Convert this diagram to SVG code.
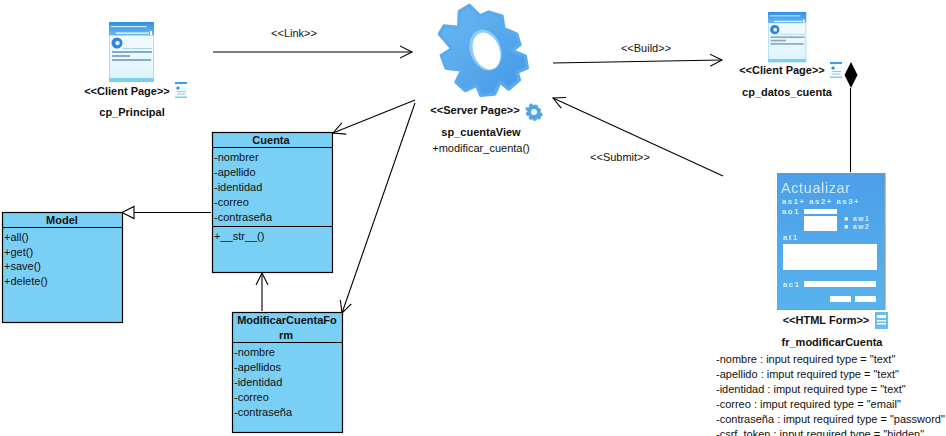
<svg xmlns="http://www.w3.org/2000/svg" width="946" height="436" viewBox="0 0 946 436">
<defs>
<style>
text{font-family:"Liberation Sans",Arial,sans-serif;font-size:11px;fill:#111}
.b{font-weight:bold}.m{text-anchor:middle}
.box{fill:#7acff5;stroke:#000;stroke-width:1.2}
.sep{stroke:#000;stroke-width:1.2;fill:none}
.c{stroke:#000;stroke-width:1.1;fill:none}
.wf{fill:#fff}
.ft{font-size:8px;fill:#d8effc;font-weight:bold;letter-spacing:1.4px}
</style>
<filter id="soft" x="-5%" y="-5%" width="110%" height="110%"><feGaussianBlur stdDeviation="0.45"/></filter>
<marker id="open" markerWidth="14" markerHeight="14" refX="12" refY="7" orient="auto" markerUnits="userSpaceOnUse"><path d="M0 1 L12 7 L0 13" fill="none" stroke="#000" stroke-width="1.1"/></marker>
<linearGradient id="page" x1="0" y1="0" x2="0" y2="1"><stop offset="0" stop-color="#2f8fe6"/><stop offset=".22" stop-color="#6ab8ef"/><stop offset=".23" stop-color="#f2fbff"/><stop offset=".93" stop-color="#dff4fd"/><stop offset=".94" stop-color="#7acff5"/></linearGradient>
<linearGradient id="gear" x1="0" y1="0" x2="1" y2="1"><stop offset="0" stop-color="#6cb8f2"/><stop offset="1" stop-color="#4398e6"/></linearGradient>
<linearGradient id="form" x1="0" y1="0" x2="0" y2="1"><stop offset="0" stop-color="#4c9fe8"/><stop offset="1" stop-color="#58b2ec"/></linearGradient>
<g id="pageIcon">
<rect width="45" height="60" fill="url(#page)"/>
<rect x="2" y="4" width="36" height="1.2" fill="#cfe8fb"/>
<rect x="7" y="10.5" width="33" height="1.2" fill="#fff"/>
<rect x="41" y="9" width="2" height="4" fill="#fff"/>
<circle cx="8" cy="21" r="5.5" fill="#2f86d8"/><circle cx="8.5" cy="21" r="2.2" fill="#e8f6ff"/>
<rect x="14" y="26" width="29" height="0.8" fill="#9ccbe8"/>
<rect x="3" y="29" width="40" height="2" fill="#8aa9c4"/>
<rect x="3" y="33" width="18" height="2" fill="#8aa9c4"/>
<rect x="3" y="37" width="39" height="2" fill="#8aa9c4"/>
<rect x="0" y="14" width="1" height="42" fill="#a9dcf6"/><rect x="44" y="14" width="1" height="42" fill="#a9dcf6"/>
</g>
<g id="miniPage">
<rect width="12" height="16" fill="#f2fbff"/><rect width="12" height="2" fill="#3f9be8"/><rect y="14.5" width="12" height="1.5" fill="#7acff5"/>
<circle cx="3" cy="6" r="1.6" fill="#2f86d8"/><rect x="2" y="9" width="9" height="1" fill="#9cc4dd"/><rect x="2" y="11.5" width="8" height="1" fill="#9cc4dd"/>
</g>
<path id="gearShape" d="M88 34 L118 16 L150 48 L176 36 L216 48 L222 86 L260 102 L270 134 L246 152 L286 168 L292 204 L262 216 L268 240 L236 268 L210 246 L194 282 L152 286 L140 256 L106 272 L78 246 L96 210 L48 204 L34 166 L66 146 L28 102 L42 78 L86 82 Z" stroke-linejoin="round" stroke-width="10"/>
</defs>
<rect width="946" height="436" fill="#fff"/>
<g id="connectors">
<line class="c" x1="213" y1="52" x2="412" y2="52" marker-end="url(#open)"/>
<line class="c" x1="553" y1="63" x2="722" y2="60" marker-end="url(#open)"/>
<line class="c" x1="723" y1="176" x2="553" y2="98" marker-end="url(#open)"/>
<line class="c" x1="415" y1="100" x2="333" y2="133" marker-end="url(#open)"/>
<line class="c" x1="415" y1="103" x2="342" y2="313" marker-end="url(#open)"/>
<line class="c" x1="262" y1="311" x2="262" y2="273" marker-end="url(#open)"/>
<line class="c" x1="211" y1="212.5" x2="134" y2="212.5"/>
<path d="M122 212.5 L134 206.5 L134 218.5 Z" fill="#fff" stroke="#000" stroke-width="1.1"/>
<line class="c" x1="850.5" y1="88" x2="850.5" y2="172"/>
<path d="M851 62 L857.5 75 L851 88 L844.5 75 Z" fill="#000"/>
<text class="m" x="294" y="37">&lt;&lt;Link&gt;&gt;</text>
<text class="m" x="646" y="52">&lt;&lt;Build&gt;&gt;</text>
<text class="m" x="620" y="161">&lt;&lt;Submit&gt;&gt;</text>
</g>
<g id="cp_Principal">
<use href="#pageIcon" x="109" y="22" filter="url(#soft)"/>
<use href="#miniPage" x="175" y="82"/>
<text class="b m" x="127" y="95">&lt;&lt;Client Page&gt;&gt;</text>
<text class="b m" x="132" y="116">cp_Principal</text>
</g>
<g id="sp_cuentaView">
<use href="#gearShape" transform="translate(430 0) scale(.3333)" fill="url(#gear)" stroke="#5aaaee" filter="url(#soft)"/>
<ellipse cx="485.5" cy="50" rx="15.5" ry="21" transform="rotate(-20 485.5 50)" fill="#8ecbf6"/>
<ellipse cx="486.5" cy="51" rx="13" ry="19" transform="rotate(-20 486.5 51)" fill="#fff"/>
<text class="b m" x="475" y="114">&lt;&lt;Server Page&gt;&gt;</text>
<use href="#gearShape" transform="translate(534 112) scale(.0633) translate(-160 -150)" fill="#4fa3ea" stroke="#4fa3ea"/>
<circle cx="534" cy="112" r="3" fill="#fff"/>
<text class="b m" x="481" y="136">sp_cuentaView</text>
<text class="m" x="481" y="152">+modificar_cuenta()</text>
</g>
<g id="cp_datos_cuenta">
<use href="#pageIcon" transform="translate(768 12) scale(.85 .84)" filter="url(#soft)"/>
<use href="#miniPage" x="830" y="62"/>
<text class="b m" x="782" y="74">&lt;&lt;Client Page&gt;&gt;</text>
<text class="b m" x="787" y="96">cp_datos_cuenta</text>
</g>
<g id="fr_modificarCuenta">
<g filter="url(#soft)">
<rect x="777" y="173" width="108" height="136" fill="url(#form)"/>
<path d="M777 309.5 H885 V173" fill="none" stroke="#8a9aa5" stroke-width="1.2"/>
<text x="781" y="193" style="font-size:14.5px;fill:#cfe9fb;letter-spacing:.6px">Actualizar</text>
<text x="782" y="204" class="ft">as1+ as2+ as3+</text>
<text x="782" y="214" class="ft">ao1</text>
<rect class="wf" x="804" y="209" width="33" height="5"/>
<rect class="wf" x="804" y="216" width="33" height="15"/>
<text x="844" y="221" class="ft" style="font-size:7px">■ aw1</text>
<text x="844" y="229" class="ft" style="font-size:7px">■ aw2</text>
<text x="783" y="240" class="ft">at1</text>
<rect class="wf" x="783" y="244" width="94" height="26"/>
<text x="783" y="287" class="ft">ac1</text>
<rect class="wf" x="804" y="281" width="72" height="6"/>
<rect class="wf" x="830" y="296" width="21" height="6"/>
<rect class="wf" x="855" y="296" width="21" height="6"/>
</g>
<text class="b m" x="826" y="324">&lt;&lt;HTML Form&gt;&gt;</text>
<rect x="875" y="312" width="13" height="17" fill="#6cbcef"/>
<rect x="877" y="315" width="9" height="3" fill="#fff"/><rect x="877" y="320" width="9" height="1.5" fill="#fff"/><rect x="877" y="323" width="9" height="1.5" fill="#fff"/>
<text class="b m" x="832" y="346">fr_modificarCuenta</text>
<text x="716" y="363">-nombre : input required type = "text"</text>
<text x="716" y="378">-apellido : imput required type = "text"</text>
<text x="716" y="393">-identidad : imput required type = "text"</text>
<text x="716" y="408">-correo : imput required type = "email"</text>
<text x="716" y="423">-contraseña : imput required type = "password"</text>
<text x="716" y="438">-csrf_token : input required type = "hidden"</text>
</g>
<g id="Model">
<rect class="box" x="2.5" y="212.5" width="120" height="110"/>
<line class="sep" x1="2.5" y1="227.5" x2="122.5" y2="227.5"/>
<text class="b m" x="62" y="224">Model</text>
<text x="4" y="241">+all()</text>
<text x="4" y="256">+get()</text>
<text x="4" y="270">+save()</text>
<text x="4" y="285">+delete()</text>
</g>
<g id="Cuenta">
<rect class="box" x="212.5" y="132.5" width="120" height="140"/>
<line class="sep" x1="212.5" y1="147.5" x2="332.5" y2="147.5"/>
<line class="sep" x1="212.5" y1="226.5" x2="332.5" y2="226.5"/>
<text class="b m" x="271" y="144">Cuenta</text>
<text x="214" y="161">-nombrer</text>
<text x="214" y="176">-apellido</text>
<text x="214" y="191">-identidad</text>
<text x="214" y="206">-correo</text>
<text x="214" y="221">-contraseña</text>
<text x="214" y="240">+__str__()</text>
</g>
<g id="ModificarCuentaForm">
<rect class="box" x="232.5" y="312.5" width="110" height="120"/>
<line class="sep" x1="232.5" y1="342.5" x2="342.5" y2="342.5"/>
<text class="b m" x="287" y="324">ModificarCuentaFo</text>
<text class="b m" x="286" y="339">rm</text>
<text x="234" y="356">-nombre</text>
<text x="234" y="371">-apellidos</text>
<text x="234" y="386">-identidad</text>
<text x="234" y="401">-correo</text>
<text x="234" y="416">-contraseña</text>
</g>
</svg>
